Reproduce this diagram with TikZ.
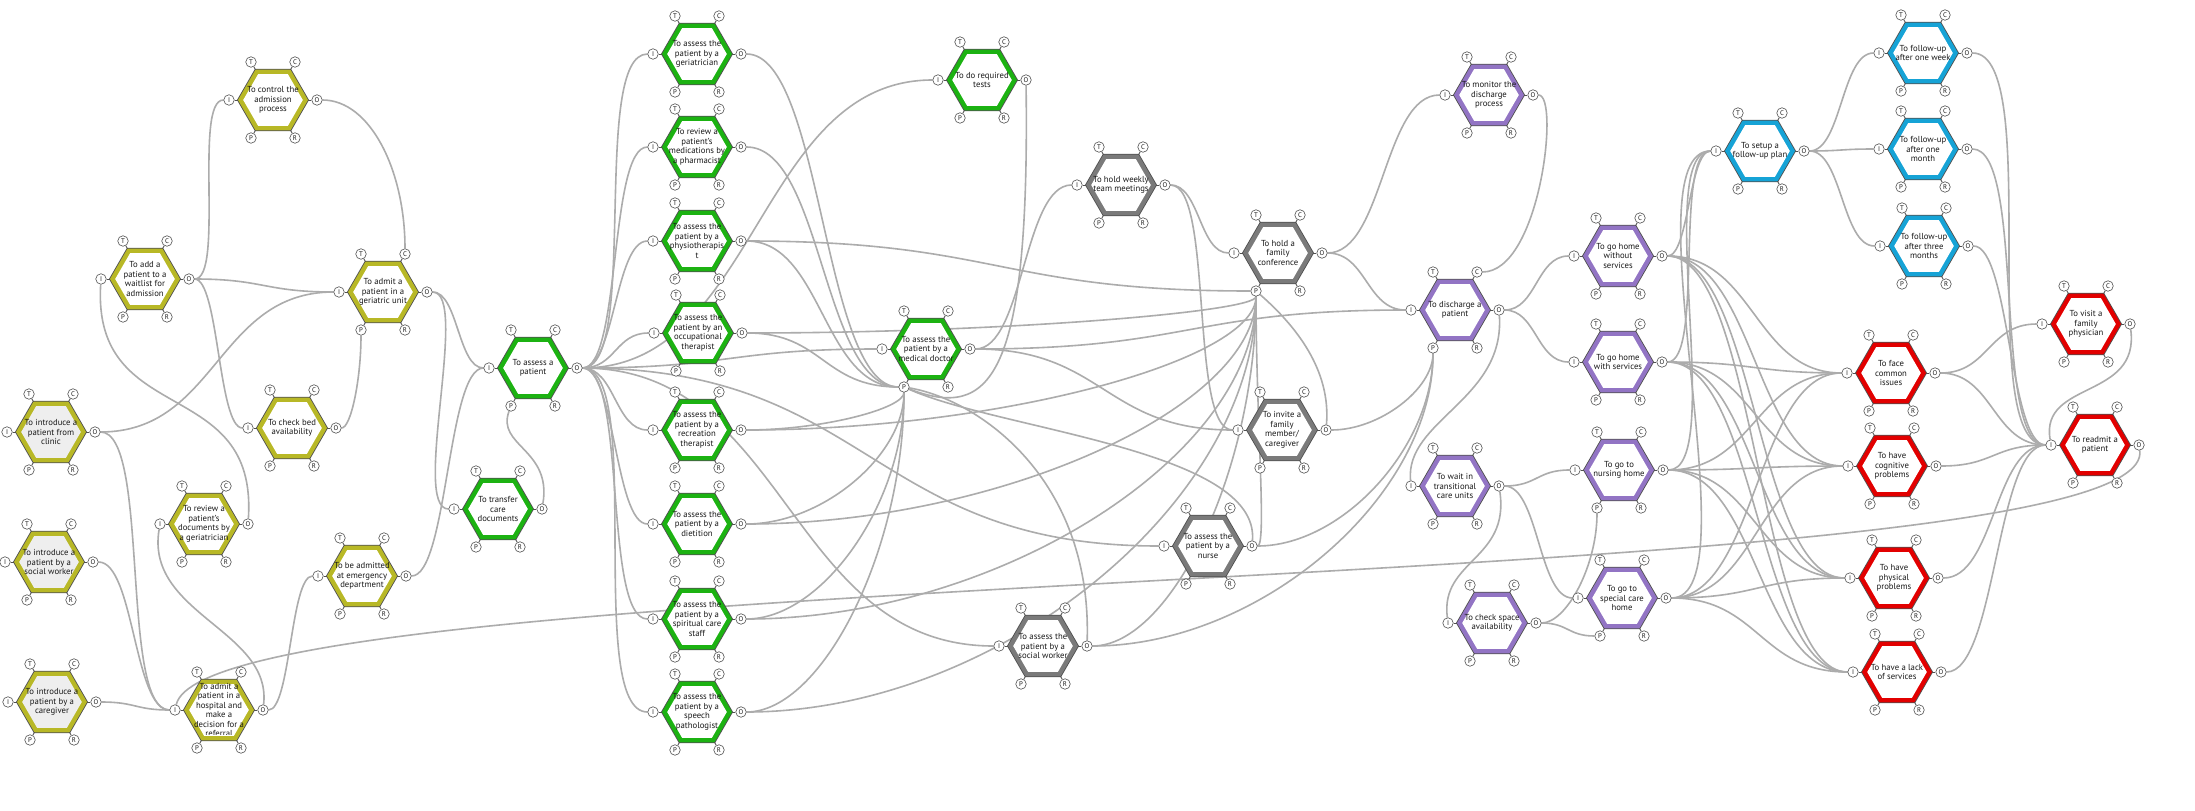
\documentclass[tikz,border=0pt]{standalone}
\usepackage{fontspec}
\setmainfont{PT Sans}
\definecolor{olv}{RGB}{184,184,38}
\definecolor{grn}{RGB}{28,178,18}
\definecolor{gry}{RGB}{122,122,122}
\definecolor{prp}{RGB}{146,116,196}
\definecolor{blu}{RGB}{22,163,214}
\definecolor{rd}{RGB}{226,0,0}
\definecolor{hexedge}{RGB}{80,80,80}
\definecolor{lnk}{RGB}{172,172,172}
\definecolor{lite}{RGB}{238,238,238}
\definecolor{txt}{RGB}{25,25,25}
\pgfdeclarelayer{back}
\pgfdeclarelayer{links}
\pgfsetlayers{back,links,main}
\tikzset{
  conn/.style={draw=lnk, line width=1.6pt},
  aspect/.style={circle, draw=hexedge, fill=white, line width=0.6pt, minimum size=10.5pt, inner sep=0pt, font=\fontsize{6.8}{7}\selectfont, text=txt},
  stub/.style={draw=hexedge, line width=0.8pt},
  hextext/.style={align=center, font=\fontsize{8.7}{9.5}\selectfont, text=txt, inner sep=0pt},
}
\newcommand\hexpath[1]{(0:#1) -- (60:#1) -- (120:#1) -- (180:#1) -- (240:#1) -- (300:#1) -- cycle}
\newcommand\fram[6]{%
  \expandafter\def\csname fx@#1\endcsname{#2}%
  \expandafter\def\csname fy@#1\endcsname{#3}%
  \begin{scope}[shift={(#2,#3)}]
    \fill[hexedge] \hexpath{36};
    \fill[#4] \hexpath{35};
    \fill[#5] \hexpath{29.8};
  \end{scope}
  \node[aspect] (#1-T) at (#2-22,#3-38) {T};
  \node[aspect] (#1-C) at (#2+22,#3-38) {C};
  \node[aspect] (#1-I) at (#2-44,#3) {I};
  \node[aspect] (#1-O) at (#2+44,#3) {O};
  \node[aspect] (#1-P) at (#2-22,#3+38) {P};
  \node[aspect] (#1-R) at (#2+22,#3+38) {R};
  \draw[stub] (#1-T) -- (#2-17.5,#3-30.3);
  \draw[stub] (#1-C) -- (#2+17.5,#3-30.3);
  \draw[stub] (#1-I) -- (#2-35,#3);
  \draw[stub] (#1-O) -- (#2+35,#3);
  \draw[stub] (#1-P) -- (#2-17.5,#3+30.3);
  \draw[stub] (#1-R) -- (#2+17.5,#3+30.3);
  \begin{scope}
    \clip (#2-48,#3-32) rectangle (#2+48,#3+24.5);
    \node[hextext] (#1) at (#2,#3) {#6};
  \end{scope}
}
\newcommand\frget[2]{%
  \edef\frsx{\csname fx@#1\endcsname}\edef\frsy{\csname fy@#1\endcsname}%
  \edef\frtx{\csname fx@#2\endcsname}\edef\frty{\csname fy@#2\endcsname}%
}
% O -> I
\newcommand\LI[3][1]{%
  \frget{#2}{#3}%
  \pgfmathsetmacro\frdx{abs((\frtx-44)-(\frsx+44))}%
  \pgfmathsetmacro\frdy{abs(\frty-\frsy)}%
  \pgfmathsetmacro\frk{#1*max(0.5*\frdx,0.2*\frdy,15)}%
  \draw[conn] (#2-O) .. controls +(\frk,0) and +(-\frk,0) .. (#3-I);%
}
% O -> P
\newcommand\LP[3][1]{%
  \frget{#2}{#3}%
  \pgfmathsetmacro\frdx{abs((\frtx-22)-(\frsx+44))}%
  \pgfmathsetmacro\frdy{\frsy-(\frty+38)}%
  \pgfmathsetmacro\frk{#1*max(0.5*\frdx,15)}%
  \ifdim\frdy pt>0pt
    \pgfmathsetmacro\frkv{#1*max(0.5*\frdy,15)}%
    \draw[conn] (#2-O) .. controls +(\frk,0) and +(0,\frkv) .. (#3-P);%
  \else
    \draw[conn] (#2-O) .. controls +(\frk,0) and +(-\frk,0) .. (#3-P);%
  \fi
}
% manual
\newcommand\LM[4]{\draw[conn] (#1) .. controls (#3) and (#4) .. (#2);}

\begin{document}
\begin{tikzpicture}[x=1pt,y=-1pt]
\begin{pgfonlayer}{back}
\fill[white] (0,0) rectangle (2195,811);
\end{pgfonlayer}
\useasboundingbox (0,0) rectangle (2195,811);

% olive
\fram{control}{273}{100}{olv}{white}{To control the\\admission\\process}
\fram{add}{145}{279}{olv}{white}{To add a\\patient to a\\waitlist for\\admission}
\fram{admitger}{383}{292}{olv}{white}{To admit a\\patient in a\\geriatric unit}
\fram{clinic}{51}{432}{olv}{lite}{To introduce a\\patient from\\clinic}
\fram{checkbed}{292}{428}{olv}{white}{To check bed\\availability}
\fram{review}{204}{524}{olv}{white}{To review a\\patient’s\\documents by\\a geriatrician}
\fram{isocial}{49}{562}{olv}{lite}{To introduce a\\patient by a\\social worker}
\fram{ed}{362}{576}{olv}{white}{To be admitted\\at emergency\\department}
\fram{caregiver}{52}{702}{olv}{lite}{To introduce a\\patient by a\\caregiver}
\fram{admithosp}{219}{710}{olv}{white}{To admit a\\patient in a\\hospital and\\make a\\decision for a\\referral}
% green
\fram{assess}{533}{368}{grn}{white}{To assess a\\patient}
\fram{transfer}{498}{509}{grn}{white}{To transfer\\care\\documents}
\fram{geri}{697}{54}{grn}{white}{To assess the\\patient by a\\geriatrician}
\fram{pharm}{697}{147}{grn}{white}{To review a\\patient’s\\medications by\\a pharmacist}
\fram{physio}{697}{241}{grn}{white}{To assess the\\patient by a\\physiotherapis\\t}
\fram{ot}{698}{333}{grn}{white}{To assess the\\patient by an\\occupational\\therapist}
\fram{rec}{697}{430}{grn}{white}{To assess the\\patient by a\\recreation\\therapist}
\fram{diet}{697}{524}{grn}{white}{To assess the\\patient by a\\dietition}
\fram{spirit}{697}{619}{grn}{white}{To assess the\\patient by a\\spiritual care\\staff}
\fram{speech}{697}{712}{grn}{white}{To assess the\\patient by a\\speech\\pathologist}
\fram{medical}{926}{349}{grn}{white}{To assess the\\patient by a\\medical doctor}
\fram{tests}{982}{80}{grn}{white}{To do required\\tests}
% gray
\fram{weekly}{1121}{185}{gry}{white}{To hold weekly\\team meetings}
\fram{family}{1278}{253}{gry}{white}{To hold a\\family\\conference}
\fram{invite}{1282}{430}{gry}{white}{To invite a\\family\\member/\\caregiver}
\fram{nurse}{1208}{546}{gry}{white}{To assess the\\patient by a\\nurse}
\fram{socw}{1043}{646}{gry}{white}{To assess the\\patient by a\\social worker}
% purple
\fram{monitor}{1489}{95}{prp}{white}{To monitor the\\discharge\\process}
\fram{discharge}{1455}{310}{prp}{white}{To discharge a\\patient}
\fram{homewo}{1618}{256}{prp}{white}{To go home\\without\\services}
\fram{homew}{1618}{362}{prp}{white}{To go home\\with services}
\fram{tcu}{1455}{486}{prp}{white}{To wait in\\transitional\\care units}
\fram{nursing}{1619}{470}{prp}{white}{To go to\\nursing home}
\fram{space}{1492}{623}{prp}{white}{To check space\\availability}
\fram{special}{1622}{598}{prp}{white}{To go to\\special care\\home}
% blue
\fram{setup}{1760}{151}{blu}{white}{To setup a\\follow-up plan}
\fram{week}{1923}{53}{blu}{white}{To follow-up\\after one week}
\fram{month}{1923}{149}{blu}{white}{To follow-up\\after one\\month}
\fram{three}{1924}{246}{blu}{white}{To follow-up\\after three\\months}
% red
\fram{visit}{2086}{324}{rd}{white}{To visit a\\family\\physician}
\fram{face}{1891}{373}{rd}{white}{To face\\common\\issues}
\fram{cog}{1892}{466}{rd}{white}{To have\\cognitive\\problems}
\fram{phys}{1894}{578}{rd}{white}{To have\\physical\\problems}
\fram{lack}{1897}{672}{rd}{white}{To have a lack\\of services}
\fram{readmit}{2095}{445}{rd}{white}{To readmit a\\patient}

\begin{pgfonlayer}{links}
% olive area
\LI{add}{control}
\LI{add}{admitger}
\LI{add}{checkbed}
\LI{clinic}{admitger}
\LI{clinic}{admithosp}
\LI{isocial}{admithosp}
\LI{caregiver}{admithosp}
\LI{admithosp}{ed}
\LI{ed}{assess}
\LI{admitger}{assess}
\LI{admitger}{transfer}
\LM{control-O}{admitger-C}{370,100}{405,170}
\LP{checkbed}{admitger}
\LM{review-O}{add-I}{258,374}{92,429}
\LM{admithosp-O}{review-I}{272,630}{145,614}
\LM{transfer-O}{assess-P}{552,449}{496,446}
\LM{readmit-O}{admithosp-I}{2160,600}{210,560}
% green area
\LI{assess}{geri}
\LI{assess}{pharm}
\LI{assess}{physio}
\LI{assess}{ot}
\LI{assess}{rec}
\LI{assess}{diet}
\LI{assess}{spirit}
\LI{assess}{speech}
\LI{assess}{medical}
\LI{assess}{tests}
\LI{assess}{nurse}
\LI{assess}{socw}
\LP{geri}{medical}
\LP{pharm}{medical}
\LP{physio}{medical}
\LP{ot}{medical}
\LP{rec}{medical}
\LP{diet}{medical}
\LP{spirit}{medical}
\LP{speech}{medical}
\LP{physio}{family}
\LP{ot}{family}
\LP{rec}{family}
\LP{diet}{family}
\LP{spirit}{family}
\LP{speech}{family}
\LP{socw}{family}
\LP{nurse}{family}
\LM{tests-O}{medical-P}{1030,380}{990,420}
\LM{socw-O}{medical-P}{1092,480}{980,400}
\LM{nurse-O}{medical-P}{1260,450}{1000,430}
\LI{medical}{weekly}
\LI{medical}{discharge}
\LI{medical}{invite}
% gray area
\LI{weekly}{family}
\LI{weekly}{invite}
\LI{family}{monitor}
\LI{family}{discharge}
\LM{invite-O}{family-P}{1331,370}{1296,326}
\LP{invite}{discharge}
\LP{nurse}{discharge}
\LP{socw}{discharge}
% purple area
\LM{monitor-O}{discharge-C}{1560,95}{1540,272}
\LI{discharge}{homewo}
\LI{discharge}{homew}
\LM{discharge-O}{tcu-I}{1505,400}{1405,420}
\LI{tcu}{nursing}
\LI{tcu}{special}
\LM{tcu-O}{space-I}{1510,560}{1440,560}
\LP{space}{nursing}
\LP{space}{special}
\foreach \s in {homewo,homew,nursing,special}{
  \LI{\s}{setup}
  \LI{\s}{face}
  \LI{\s}{cog}
  \LI{\s}{phys}
  \LI{\s}{lack}
}
% blue and red area
\LI{setup}{week}
\LI{setup}{month}
\LI{setup}{three}
\LI{week}{readmit}
\LI{month}{readmit}
\LI{three}{readmit}
\LI{face}{visit}
\LI{face}{readmit}
\LI{cog}{readmit}
\LI{phys}{readmit}
\LI{lack}{readmit}
\LM{visit-O}{readmit-I}{2140,400}{2040,380}
\end{pgfonlayer}
\end{tikzpicture}
\end{document}
